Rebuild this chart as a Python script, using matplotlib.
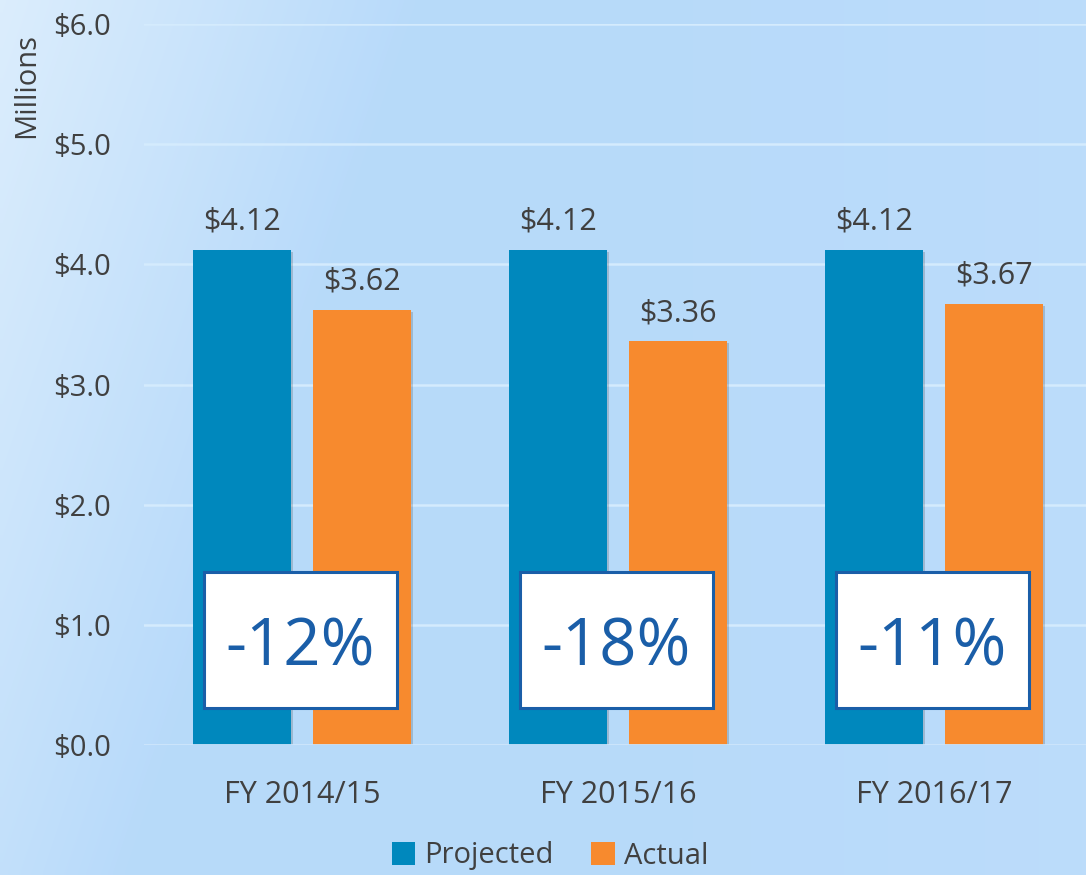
import matplotlib
matplotlib.use("Agg")
import matplotlib.pyplot as plt
import numpy as np
from matplotlib.patches import Rectangle
import matplotlib.patheffects as pe

plt.rcParams['font.family'] = ['Open Sans', 'DejaVu Sans']

# data
categories = ['FY 2014/15', 'FY 2015/16', 'FY 2016/17']
projected = [4.12, 4.12, 4.12]
actual = [3.62, 3.36, 3.67]
changes = ['-12%', '-18%', '-11%']
yticks = [0, 1, 2, 3, 4, 5, 6]

blue = '#0088bd'
orange = '#f78a2e'
txt = '#404040'

fig = plt.figure(figsize=(10.86, 8.75), dpi=100)

# background gradient
bg = fig.add_axes([0, 0, 1, 1], zorder=-10)
h, w = 175, 217
yy, xx = np.mgrid[0:h, 0:w]
t = np.clip((xx / w * 1.3 + yy / h * 0.35) / 0.5, 0, 1)
t2 = np.clip((xx / w - 0.6) / 0.4, 0, 1) * 0.35
light = np.array([0.86, 0.93, 0.99])
mid = np.array([0.72, 0.855, 0.98])
img = light[None, None, :] * (1 - t[..., None]) + mid[None, None, :] * t[..., None]
img = img * (1 - t2[..., None]) + np.array([0.77, 0.88, 0.985])[None, None, :] * t2[..., None]
bg.imshow(img, aspect='auto', extent=[0, 1, 0, 1], interpolation='bilinear')
bg.axis('off')

ax = fig.add_axes([144 / 1086, 1 - 745 / 875, 948 / 1086, 721 / 875])
ax.patch.set_alpha(0)

x = np.arange(len(categories))
bw = 0.31
off = 0.19
shadow = [pe.SimplePatchShadow(offset=(1.5, -1.5), alpha=0.2, shadow_rgbFace='#303030'), pe.Normal()]
b1 = ax.bar(x - off, projected, bw, color=blue, zorder=3, label='Projected')
b2 = ax.bar(x + off, actual, bw, color=orange, zorder=3, label='Actual')
for b in list(b1) + list(b2):
    b.set_path_effects(shadow)

for xi, v in zip(x - off, projected):
    ax.text(xi, v + 0.11, f'${v:.2f}', ha='center', va='bottom', fontsize=22, color=txt, zorder=5)
for xi, v in zip(x + off, actual):
    ax.text(xi, v + 0.11, f'${v:.2f}', ha='center', va='bottom', fontsize=22, color=txt, zorder=5)

for xi, c in zip(x, changes):
    ax.add_patch(Rectangle((xi - 0.31, 0.31), 0.61, 1.13, facecolor='white',
                           edgecolor='#1a5ea8', linewidth=2.2, zorder=6))
    ax.text(xi - 0.005, 0.80, c, ha='center', va='center', fontsize=47,
            color='#1a5ea8', zorder=7)

ax.set_ylim(0, 6)
ax.set_xlim(-0.5, 2.5)
ax.set_yticks(yticks)
ax.set_yticklabels([f'${v:.1f}' for v in yticks])
ax.set_xticks(x)
ax.set_xticklabels(categories)
ax.tick_params(axis='both', length=0, labelcolor=txt)
ax.tick_params(axis='y', pad=24, labelsize=21)
ax.tick_params(axis='x', pad=25, labelsize=22)
ax.grid(axis='y', color='#d4ebfd', linewidth=1.8, zorder=0)
for s in ax.spines.values():
    s.set_visible(False)
ax.axhline(0, color='#cbe4fb', linewidth=2, zorder=4)

fig.text(27 / 1086, 1 - 86 / 875, 'Millions', rotation=90, ha='center', va='center',
         fontsize=21, color=txt)

leg = fig.legend(handles=[b1, b2], labels=['Projected', 'Actual'], loc='center',
                 bbox_to_anchor=(550 / 1086, 1 - 856 / 875), ncol=2, frameon=False,
                 fontsize=21, handlelength=0.8, handleheight=0.8, handletextpad=0.3,
                 columnspacing=1.3, labelcolor=txt)
for hnd in leg.legend_handles:
    hnd.set_path_effects([])

fig.savefig('out.png', dpi=100)
